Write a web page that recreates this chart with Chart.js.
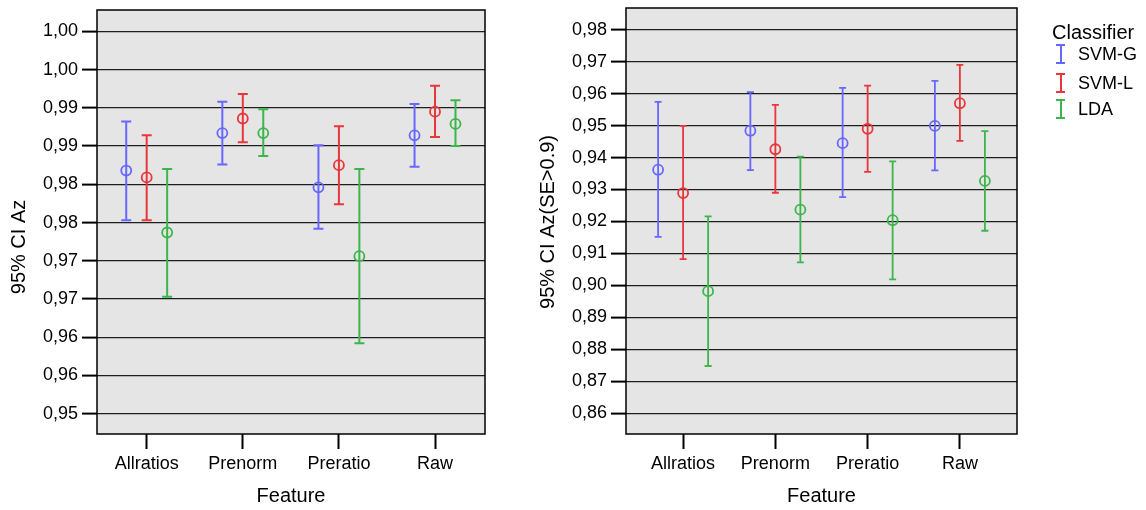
<!DOCTYPE html>
<html lang="en">
<head>
<meta charset="utf-8">
<title>95% CI Az by feature and classifier</title>
<script src="https://cdn.jsdelivr.net/npm/chart.js"></script>
<style>
  body { margin: 0; background: #fff; font-family: "Liberation Sans", Arial, sans-serif; }
  #page { position: relative; width: 1146px; height: 510px; overflow: hidden; }
  .panel { position: absolute; top: 0; height: 510px; }
  #leftPanel { left: 0; width: 500px; }
  #rightPanel { left: 530px; width: 616px; }
  .lg-title { position: absolute; left: 1052px; top: 20px; font-size: 20px; line-height: 24px; color: #000; }
  .lg-row { position: absolute; left: 1056px; height: 22px; font-size: 18px; line-height: 22px; color: #000; }
  .lg-icon { position: absolute; left: 0; top: 1px; width: 9px; height: 20px; box-sizing: border-box;
             border-top: 2px solid currentColor; border-bottom: 2px solid currentColor; }
  .lg-icon::after { content: ""; position: absolute; left: 3.5px; top: 0; bottom: 0; width: 2px; background: currentColor; }
  .lg-text { position: absolute; left: 22px; top: 0; color: #000; white-space: nowrap; }
</style>
</head>
<body>
<div id="page">
  <div class="panel" id="leftPanel"><canvas id="chartA"></canvas></div>
  <div class="panel" id="rightPanel"><canvas id="chartB"></canvas></div>
  <div class="lg-title">Classifier</div>
  <div id="legend"></div>
</div>
<script>
// categories and series
const categories = ['Allratios', 'Prenorm', 'Preratio', 'Raw'];
const seriesNames = ['SVM-G', 'SVM-L', 'LDA'];
const seriesColors = ['#6767ff', '#e8363b', '#3cb54b'];

// left panel: 95% CI Az
const svmgMeanA = [0.9818, 0.9867, 0.9796, 0.9864];
const svmgLowA  = [0.9753, 0.9826, 0.9742, 0.9823];
const svmgHighA = [0.9882, 0.9908, 0.9851, 0.9905];
const svmlMeanA = [0.9809, 0.9886, 0.9825, 0.9895];
const svmlLowA  = [0.9753, 0.9855, 0.9774, 0.9862];
const svmlHighA = [0.9864, 0.9918, 0.9876, 0.9929];
const ldaMeanA  = [0.9737, 0.9867, 0.9706, 0.9879];
const ldaLowA   = [0.9653, 0.9837, 0.9592, 0.9850];
const ldaHighA  = [0.9820, 0.9898, 0.9820, 0.9910];
const yTickValuesA = [0.95, 0.955, 0.96, 0.965, 0.97, 0.975, 0.98, 0.985, 0.99, 0.995, 1.0];
const yTickLabelsA = ['0,95', '0,96', '0,96', '0,97', '0,97', '0,98', '0,98', '0,99', '0,99', '1,00', '1,00'];

// right panel: 95% CI Az(SE>0.9)
const svmgMeanB = [0.9362, 0.9484, 0.9445, 0.9499];
const svmgLowB  = [0.9152, 0.9361, 0.9276, 0.9360];
const svmgHighB = [0.9574, 0.9605, 0.9618, 0.9640];
const svmlMeanB = [0.9289, 0.9426, 0.9490, 0.9570];
const svmlLowB  = [0.9082, 0.9290, 0.9355, 0.9452];
const svmlHighB = [0.9499, 0.9565, 0.9625, 0.9690];
const ldaMeanB  = [0.8982, 0.9237, 0.9204, 0.9327];
const ldaLowB   = [0.8748, 0.9072, 0.9019, 0.9171];
const ldaHighB  = [0.9216, 0.9403, 0.9388, 0.9483];
const yTickValuesB = [0.86, 0.87, 0.88, 0.89, 0.90, 0.91, 0.92, 0.93, 0.94, 0.95, 0.96, 0.97, 0.98];
const yTickLabelsB = ['0,86', '0,87', '0,88', '0,89', '0,90', '0,91', '0,92', '0,93', '0,94', '0,95', '0,96', '0,97', '0,98'];

Chart.defaults.font.family = '"Liberation Sans", Arial, sans-serif';
Chart.defaults.color = '#000';

// background, error bars, frame and the rotated y title
const panelDecor = {
  id: 'panelDecor',
  beforeDraw(chart, args, o) {
    const { ctx, chartArea: a } = chart;
    ctx.save();
    ctx.fillStyle = '#e5e5e5';
    ctx.fillRect(a.left, a.top, a.width, a.height);
    ctx.restore();
  },
  beforeDatasetsDraw(chart, args, o) {
    const { ctx, scales: { x, y } } = chart;
    ctx.save();
    chart.data.datasets.forEach(ds => {
      ctx.strokeStyle = ds.borderColor;
      ctx.lineWidth = o.barWidth;
      ds.data.forEach((p, i) => {
        const px = x.getPixelForValue(p.x);
        const lo = y.getPixelForValue(ds.lows[i]);
        const hi = y.getPixelForValue(ds.highs[i]);
        ctx.beginPath();
        ctx.moveTo(px, lo); ctx.lineTo(px, hi);
        ctx.moveTo(px - o.cap / 2, lo); ctx.lineTo(px + o.cap / 2, lo);
        ctx.moveTo(px - o.cap / 2, hi); ctx.lineTo(px + o.cap / 2, hi);
        ctx.stroke();
      });
    });
    ctx.restore();
  },
  afterDraw(chart, args, o) {
    const { ctx, chartArea: a } = chart;
    ctx.save();
    ctx.strokeStyle = '#000';
    ctx.lineWidth = 1.5;
    ctx.strokeRect(a.left, a.top, a.width, a.height);
    ctx.translate(o.titleX, o.titleY);
    ctx.rotate(-Math.PI / 2);
    ctx.font = '20px "Liberation Sans", Arial, sans-serif';
    ctx.fillStyle = '#000';
    ctx.textAlign = 'center';
    ctx.textBaseline = 'middle';
    ctx.fillText(o.title, 0, 0);
    ctx.restore();
  }
};

function makeSets(means, lows, highs, shift) {
  return seriesNames.map((name, s) => ({
    label: name,
    data: means[s].map((m, i) => ({ x: i + 1 + (s - 1) * shift, y: m })),
    lows: lows[s],
    highs: highs[s],
    borderColor: seriesColors[s],
    backgroundColor: 'rgba(0,0,0,0)',
    pointRadius: 5,
    pointBorderWidth: 1.8,
    showLine: false
  }));
}

function makeChart(id, cfg) {
  return new Chart(document.getElementById(id), {
    type: 'scatter',
    data: { datasets: cfg.datasets },
    plugins: [panelDecor],
    options: {
      responsive: true,
      maintainAspectRatio: false,
      animation: false,
      events: [],
      layout: { padding: cfg.padding },
      plugins: {
        legend: { display: false },
        tooltip: { enabled: false },
        panelDecor: cfg.decor
      },
      scales: {
        x: {
          type: 'linear',
          min: cfg.xMin,
          max: cfg.xMax,
          afterBuildTicks: s => { s.ticks = categories.map((c, i) => ({ value: i + 1 })); },
          afterFit: s => { s.height = 76; s.paddingLeft = 0; s.paddingRight = 0; },
          ticks: { callback: (v, i) => categories[i], padding: 4, font: { size: 18 }, color: '#000', maxRotation: 0, autoSkip: false },
          grid: { drawOnChartArea: false, tickLength: 15, tickColor: '#000', tickWidth: 2 },
          border: { display: false },
          title: { display: true, text: 'Feature', font: { size: 20 }, color: '#000', padding: { top: 0, bottom: 2 } }
        },
        y: {
          min: cfg.yMin,
          max: cfg.yMax,
          afterBuildTicks: s => { s.ticks = cfg.yTicks.map(v => ({ value: v })); },
          afterFit: s => { s.width = cfg.yWidth; s.paddingTop = 0; s.paddingBottom = 0; },
          ticks: { callback: (v, i) => cfg.yLabels[i], padding: 4, font: { size: 18 }, color: '#000', autoSkip: false },
          grid: { color: '#1e1e1e', lineWidth: 1.2, tickLength: 15, tickColor: '#000', tickWidth: 2 },
          border: { display: false }
        }
      }
    }
  });
}

makeChart('chartA', {
  datasets: makeSets([svmgMeanA, svmlMeanA, ldaMeanA], [svmgLowA, svmlLowA, ldaLowA], [svmgHighA, svmlHighA, ldaHighA], 0.213),
  padding: { left: 0, right: 15, top: 10, bottom: 0 },
  xMin: 0.483, xMax: 4.52,
  yMin: 0.94735, yMax: 1.00279,
  yTicks: yTickValuesA, yLabels: yTickLabelsA, yWidth: 97,
  decor: { barWidth: 2, cap: 10, title: '95% CI Az', titleX: 19, titleY: 247 }
});

makeChart('chartB', {
  datasets: makeSets([svmgMeanB, svmlMeanB, ldaMeanB], [svmgLowB, svmlLowB, ldaLowB], [svmgHighB, svmlHighB, ldaHighB], 0.271),
  padding: { left: 0, right: 129, top: 8, bottom: 0 },
  xMin: 0.381, xMax: 4.619,
  yMin: 0.85352, yMax: 0.98679,
  yTicks: yTickValuesB, yLabels: yTickLabelsB, yWidth: 96,
  decor: { barWidth: 1.8, cap: 7, title: '95% CI Az(SE>0.9)', titleX: 18, titleY: 222 }
});

// legend
const legendTops = [43, 72, 98];
const legend = document.getElementById('legend');
seriesNames.forEach((name, i) => {
  const row = document.createElement('div');
  row.className = 'lg-row';
  row.style.top = legendTops[i] + 'px';
  row.style.color = seriesColors[i];
  row.innerHTML = '<span class="lg-icon"></span><span class="lg-text"></span>';
  row.querySelector('.lg-text').textContent = name;
  legend.appendChild(row);
});
</script>
</body>
</html>
